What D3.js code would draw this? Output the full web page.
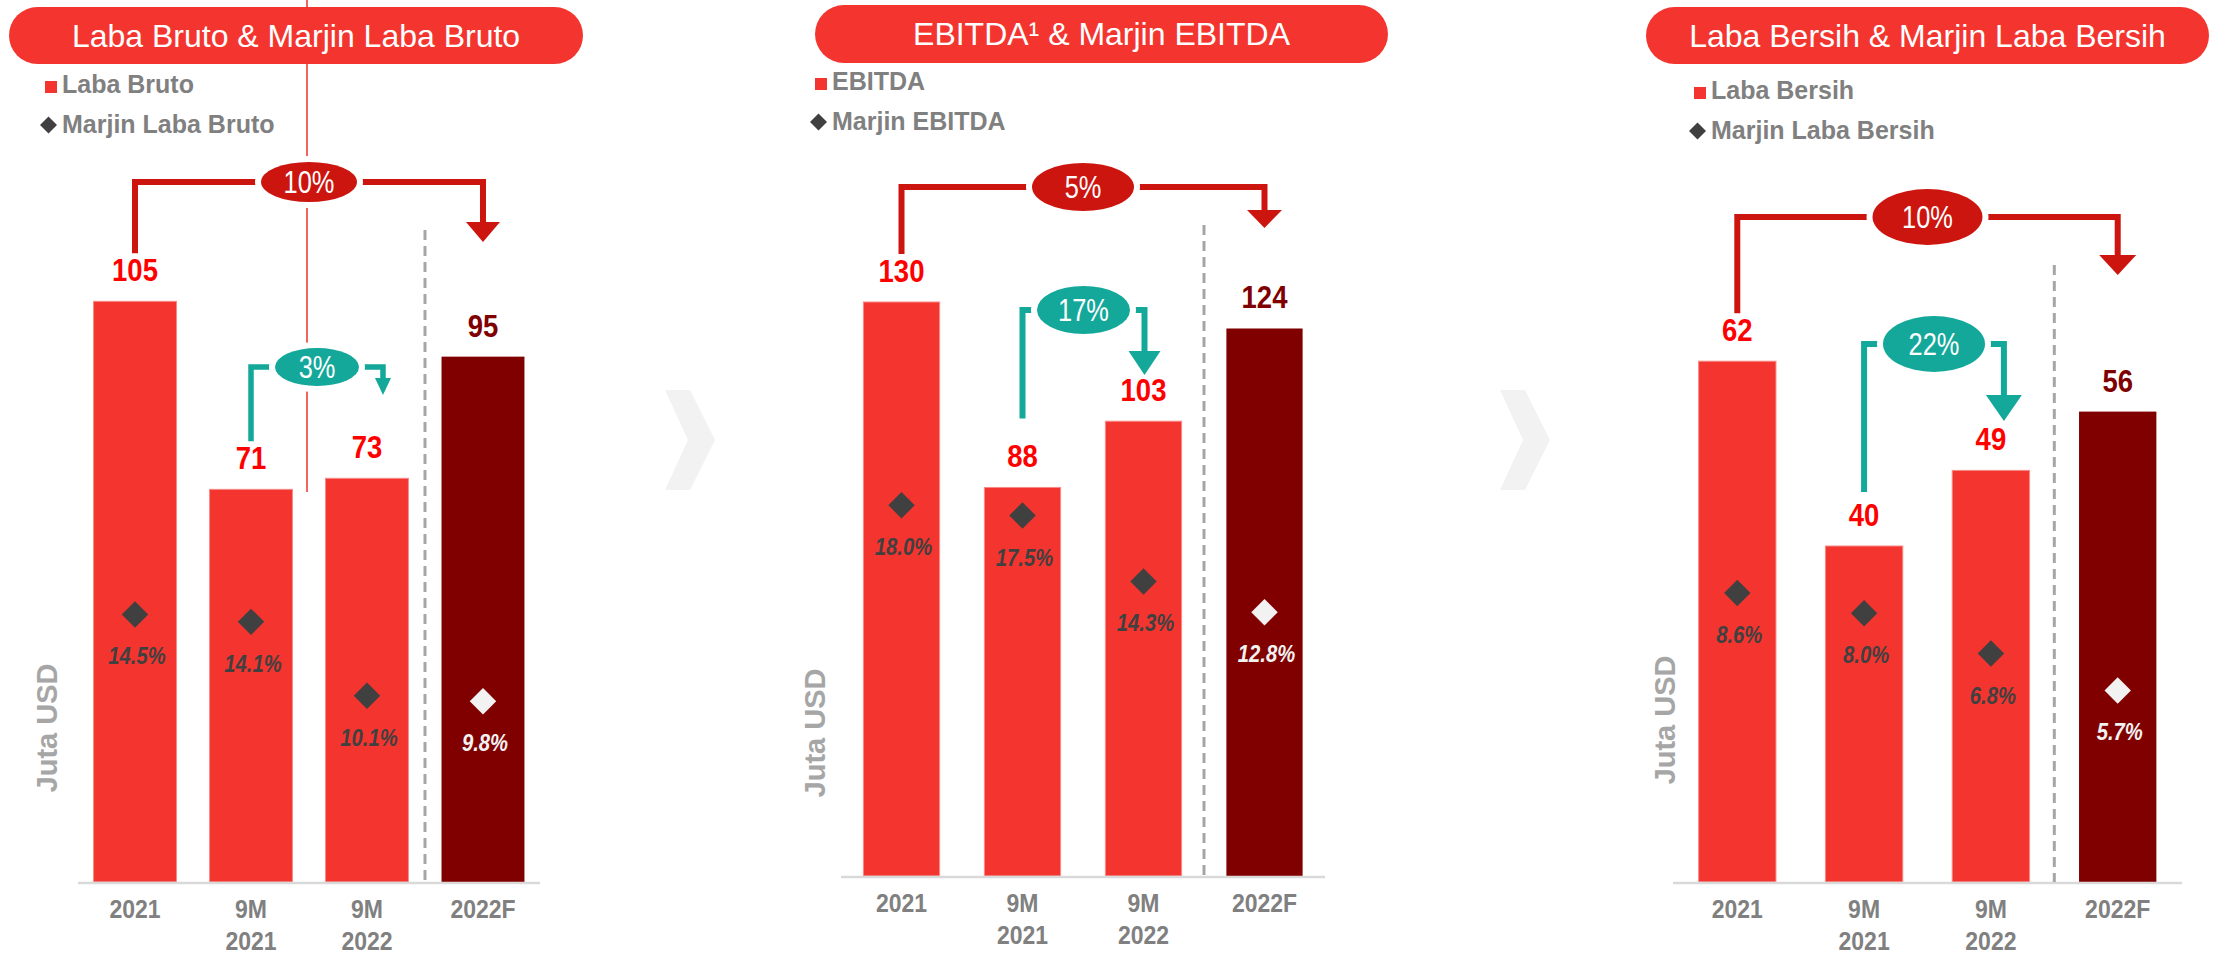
<!DOCTYPE html>
<html><head><meta charset="utf-8">
<script src="https://cdn.jsdelivr.net/npm/d3@7"></script>
<style>html,body{margin:0;padding:0;background:#fff;} svg{display:block;}</style>
</head><body>
<svg id="chart" width="2216" height="955"></svg>
<script>
// ---------------- data ----------------
const categories = ["2021", "9M 2021", "9M 2022", "2022F"];
const categoryLines = [["2021"], ["9M", "2021"], ["9M", "2022"], ["2022F"]];
const isForecast = [false, false, false, true];
const labaBruto = [105, 71, 73, 95];
const marjinLabaBruto = [14.5, 14.1, 10.1, 9.8];
const ebitda = [130, 88, 103, 124];
const marjinEbitda = [18.0, 17.5, 14.3, 12.8];
const labaBersih = [62, 40, 49, 56];
const marjinLabaBersih = [8.6, 8.0, 6.8, 5.7];
const growthFullYear = ["10%", "5%", "10%"];   // 2021 -> 2022F
const growth9M = ["3%", "17%", "22%"];          // 9M 2021 -> 9M 2022
const panelTitles = ["Laba Bruto & Marjin Laba Bruto", "EBITDA\u00B9 & Marjin EBITDA", "Laba Bersih & Marjin Laba Bersih"];
const barLegend = ["Laba Bruto", "EBITDA", "Laba Bersih"];
const marginLegend = ["Marjin Laba Bruto", "Marjin EBITDA", "Marjin Laba Bersih"];
const yAxisTitle = "Juta USD";
const barSeries = [labaBruto, ebitda, labaBersih];
const marginSeries = [marjinLabaBruto, marjinEbitda, marjinLabaBersih];

// ---------------- layout ----------------
const FONT = "'Liberation Sans', Arial, sans-serif";
const C = {
  bar: "#f4352f", barF: "#800000", valRed: "#ff0000", valDark: "#7f0000",
  bracketRed: "#cd1510", teal: "#13a89a", diamond: "#404040", diamondF: "#f2f2f2",
  gray: "#808080", axis: "#d9d9d9", dash: "#a6a6a6", yTitle: "#a6a6a6", chevron: "#f2f2f2"
};
const layout = [
  { pill: [9, 7, 583, 64], xRange: [78, 540], pi: 0.285, po: 0.134, axisY: 882, yMax: 100, yTop: 329, mMax: 10, mTop: 697.5,
    legend: [45, 81], yTitle: [47, 728], dashTop: 230,
    red: { y: 182, tip: 242, rx: 48, ry: 20, hw: 17, hh: 20, sw: 6, dx: 0 },
    teal: { y: 367, tip: 395, rx: 42, ry: 19, hw: 8, hh: 17, sw: 5.5, dx: 16, gap: 0 } },
  { pill: [815, 5, 1388, 63], xRange: [841, 1325], pi: 0.37, po: 0.185, axisY: 876, yMax: 130, yTop: 302, mMax: 10, mTop: 670,
    legend: [815, 78], yTitle: [815, 733], dashTop: 225,
    red: { y: 187, tip: 228, rx: 51, ry: 24, hw: 17.5, hh: 18, sw: 6, dx: 0 },
    teal: { y: 310, tip: 375, rx: 46.5, ry: 24, hw: 16, hh: 24, sw: 6, dx: 1, gap: 21 } },
  { pill: [1646, 7, 2209, 64], xRange: [1673, 2182], pi: 0.39, po: 0.202, axisY: 882, yMax: 60, yTop: 378, mMax: 10, mTop: 546,
    legend: [1694, 87], yTitle: [1665, 720], dashTop: 265,
    red: { y: 217, tip: 275, rx: 55, ry: 28, hw: 18.5, hh: 20, sw: 6, dx: 0 },
    teal: { y: 344, tip: 421, rx: 51, ry: 28, hw: 18, hh: 26, sw: 6, dx: 13, gap: 6 } }
];

const svg = d3.select("#chart");

function ctext(g, x, y, str, o) {
  return g.append("text")
    .attr("transform", `translate(${x},${y}) scale(${o.sx || 1},1)`)
    .attr("text-anchor", o.anchor || "middle")
    .style("font-family", o.family || FONT)
    .style("font-size", o.size + "px")
    .style("font-weight", o.weight || "normal")
    .style("font-style", o.style || "normal")
    .attr("fill", o.fill)
    .text(str);
}

// background decorations: guide line (panel 1) and chevrons
svg.append("line").attr("x1", 307).attr("x2", 307).attr("y1", 0).attr("y2", 492)
  .attr("stroke", "#f0302a").attr("stroke-width", 1.5);
[[665, 390], [1500, 390]].forEach(([cx, cy]) => {
  const pts = [[0, 0], [25, 0], [50, 50], [25, 100], [0, 100], [23, 50]].map(p => [p[0] + cx, p[1] + cy]);
  svg.append("path").attr("d", d3.line()(pts) + "Z").attr("fill", C.chevron);
});

layout.forEach((L, pi) => {
  const g = svg.append("g");
  const vals = barSeries[pi], marg = marginSeries[pi];

  const x = d3.scaleBand().domain(categories).range(L.xRange).paddingInner(L.pi).paddingOuter(L.po);
  const y = d3.scaleLinear().domain([0, L.yMax]).range([L.axisY, L.yTop]);
  const ym = d3.scaleLinear().domain([0, L.mMax]).range([L.axisY, L.mTop]);
  const cx = c => x(c) + x.bandwidth() / 2;

  // title pill
  const [px0, py0, px1, py1] = L.pill;
  g.append("rect").attr("x", px0).attr("y", py0).attr("width", px1 - px0).attr("height", py1 - py0)
    .attr("rx", (py1 - py0) / 2).attr("fill", C.bar);
  ctext(g, (px0 + px1) / 2, (py0 + py1) / 2 + 11, panelTitles[pi], { size: 32, fill: "#fff" });

  // legend
  const [lx, ly] = L.legend;
  g.append("rect").attr("x", lx).attr("y", ly).attr("width", 12).attr("height", 12).attr("fill", C.bar);
  ctext(g, lx + 17, ly + 12, barLegend[pi], { size: 25, weight: "bold", fill: C.gray, anchor: "start" });
  g.append("path").attr("d", d3.symbol(d3.symbolSquare, 144)())
    .attr("transform", `translate(${lx + 3.5},${ly + 44}) rotate(45)`).attr("fill", C.diamond);
  ctext(g, lx + 17, ly + 52, marginLegend[pi], { size: 25, weight: "bold", fill: C.gray, anchor: "start" });

  // y title
  g.append("text").attr("transform", `translate(${L.yTitle[0]},${L.yTitle[1]}) rotate(-90)`)
    .attr("text-anchor", "middle").attr("dominant-baseline", "central")
    .style("font-family", FONT).style("font-size", "29px").style("font-weight", "bold")
    .attr("fill", C.yTitle).text(yAxisTitle);

  // bars
  g.selectAll("rect.bar").data(categories).enter().append("rect").attr("class", "bar")
    .attr("x", c => x(c)).attr("width", x.bandwidth())
    .attr("y", (c, i) => y(vals[i])).attr("height", (c, i) => L.axisY - y(vals[i]))
    .attr("fill", (c, i) => isForecast[i] ? C.barF : C.bar)
    .attr("stroke", (c, i) => isForecast[i] ? "none" : "#f78a86").attr("stroke-width", 1);

  // axis line
  g.append("line").attr("x1", L.xRange[0]).attr("x2", L.xRange[1]).attr("y1", L.axisY + 1).attr("y2", L.axisY + 1)
    .attr("stroke", C.axis).attr("stroke-width", 2.5);

  // dashed separator between actual and forecast
  const sepX = (x(categories[2]) + x.bandwidth() + x(categories[3])) / 2;
  g.append("line").attr("x1", sepX).attr("x2", sepX).attr("y1", L.dashTop).attr("y2", L.axisY)
    .attr("stroke", C.dash).attr("stroke-width", 3).attr("stroke-dasharray", "10,6");

  // x labels
  categories.forEach((c, i) => {
    categoryLines[i].forEach((line, k) => {
      ctext(g, cx(c), L.axisY + 36 + k * 32, line, { size: 25, weight: "bold", fill: C.gray, sx: 0.92 });
    });
  });

  // value labels
  categories.forEach((c, i) => {
    ctext(g, cx(c), y(vals[i]) - 20, String(vals[i]),
      { size: 32, weight: "bold", fill: isForecast[i] ? C.valDark : C.valRed, sx: 0.86 });
  });

  // margin diamonds + labels
  categories.forEach((c, i) => {
    g.append("path").attr("d", d3.symbol(d3.symbolSquare, 350)())
      .attr("transform", `translate(${cx(c)},${ym(marg[i])}) rotate(45)`)
      .attr("fill", isForecast[i] ? C.diamondF : C.diamond);
    ctext(g, cx(c) + 2, ym(marg[i]) + 50, marg[i].toFixed(1) + "%",
      { size: 23, weight: "bold", style: "italic", fill: isForecast[i] ? C.diamondF : C.diamond, sx: 0.88 });
  });

  // growth brackets
  function bracket(i0, i1, B, color, label) {
    const x0 = cx(categories[i0]), x1 = cx(categories[i1]) + B.dx;
    const yStart = y(vals[i0]) - 20 - 23 - 5 - (B.gap || 0);
    const pts = [[x0, yStart], [x0, B.y], [x1, B.y], [x1, B.tip - B.hh]];
    g.append("path").attr("d", d3.line()(pts)).attr("fill", "none")
      .attr("stroke", color).attr("stroke-width", B.sw).attr("stroke-linejoin", "miter");
    g.append("path").attr("d", d3.line()([[x1 - B.hw, B.tip - B.hh], [x1 + B.hw, B.tip - B.hh], [x1, B.tip]]) + "Z")
      .attr("fill", color);
    const ex = (x0 + x1) / 2;
    g.append("ellipse").attr("cx", ex).attr("cy", B.y).attr("rx", B.rx).attr("ry", B.ry)
      .attr("fill", color).attr("stroke", "#fff").attr("stroke-width", 12);
    g.append("ellipse").attr("cx", ex).attr("cy", B.y).attr("rx", B.rx).attr("ry", B.ry).attr("fill", color);
    ctext(g, ex, B.y + 11, label, { size: 31, fill: "#fff", sx: 0.82 });
  }
  bracket(0, 3, L.red, C.bracketRed, growthFullYear[pi]);
  bracket(1, 2, L.teal, C.teal, growth9M[pi]);
});
</script>
</body></html>
